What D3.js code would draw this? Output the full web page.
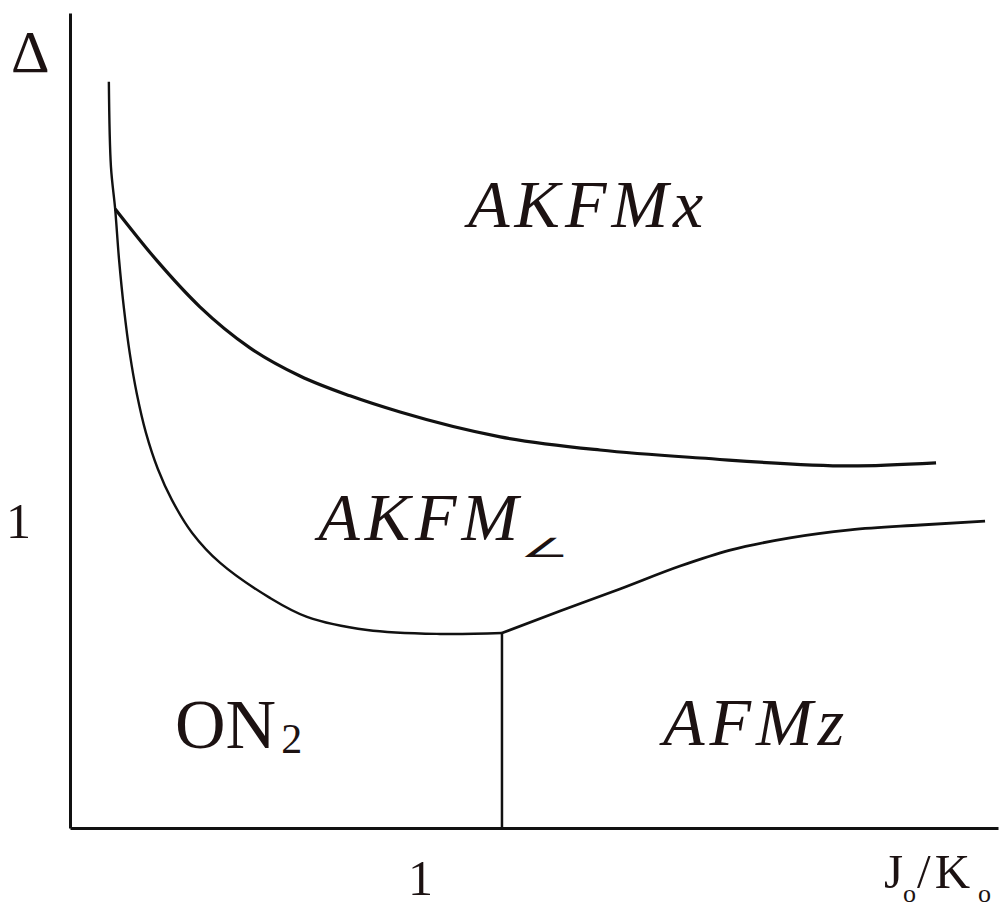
<!DOCTYPE html>
<html>
<head>
<meta charset="utf-8">
<script src="https://cdn.jsdelivr.net/npm/d3@7"></script>
<style>
  html, body { margin: 0; padding: 0; background: #fff; }
  svg { display: block; }
  text { font-family: "Liberation Serif", "Times New Roman", Times, serif; fill: #1c1212; }
</style>
</head>
<body>
<svg id="chart" width="1005" height="910"></svg>
<script>
// Phase boundaries in (J0/K0, Δ) units
const leftBoundaryX  = [0.111, 0.117, 0.129, 0.140, 0.154, 0.171, 0.191, 0.217, 0.251, 0.291, 0.349, 0.429, 0.571, 0.677, 0.849, 1.057, 1.234];
const leftBoundaryY  = [2.438, 2.160, 2.023, 1.859, 1.699, 1.549, 1.418, 1.291, 1.173, 1.072, 0.964, 0.866, 0.752, 0.690, 0.647, 0.634, 0.637];

const upperBoundaryX = [0.129, 0.249, 0.371, 0.514, 0.657, 0.800, 0.943, 1.229, 1.514, 1.800, 2.229, 2.474];
const upperBoundaryY = [2.023, 1.853, 1.703, 1.569, 1.477, 1.412, 1.359, 1.278, 1.235, 1.209, 1.183, 1.193];

const rightBoundaryX = [1.234, 1.400, 1.571, 1.743, 1.886, 2.057, 2.229, 2.429, 2.614];
const rightBoundaryY = [0.637, 0.709, 0.781, 0.856, 0.908, 0.948, 0.974, 0.990, 1.003];

const verticalBoundaryX = [1.234, 1.234];
const verticalBoundaryY = [0.0, 0.637];

// Axis ticks
const xTicks = [1];
const yTicks = [1];
const tickLabels = ["1"];

// Phase region labels
const phaseNames = ["AKFMx", "AKFM", "AFMz"];
const phaseX     = [1.137, 0.709, 1.694];
const phaseY     = [1.964, 0.941, 0.271];

const svg = d3.select("#chart");

const x = d3.scaleLinear().domain([0, 2.651]).range([70, 998]);
const y = d3.scaleLinear().domain([0, 2.663]).range([828, 13]);

const toPoints = (xs, ys) => xs.map((v, i) => [v, ys[i]]);
const lineCR = d3.line()
  .x(d => x(d[0]))
  .y(d => y(d[1]))
  .curve(d3.curveCatmullRom.alpha(0.5));
const lineMono = d3.line()
  .x(d => x(d[0]))
  .y(d => y(d[1]))
  .curve(d3.curveMonotoneX);

// Axes
const xAxis = svg.append("g")
  .attr("transform", `translate(0,${y(0)})`)
  .call(d3.axisBottom(x).tickValues(xTicks).tickFormat((d, i) => tickLabels[i]).tickSize(0).tickSizeOuter(0));
const yAxis = svg.append("g")
  .attr("transform", `translate(${x(0)},0)`)
  .call(d3.axisLeft(y).tickValues(yTicks).tickFormat((d, i) => tickLabels[i]).tickSize(0).tickSizeOuter(0));

[xAxis, yAxis].forEach(g => {
  g.select(".domain").attr("stroke", "#111").attr("stroke-width", 3);
  g.selectAll("text")
    .attr("fill", "#1c1212")
    .style("font-family", '"Liberation Serif", "Times New Roman", serif')
    .style("font-size", "50px");
});
xAxis.selectAll("text").attr("y", 67).attr("dy", 0);
yAxis.selectAll("text").attr("x", -39).attr("dy", "0.32em");

// Boundaries
const curves = [
  { d: lineCR(toPoints(leftBoundaryX, leftBoundaryY)), w: 2.4 },
  { d: lineMono(toPoints(upperBoundaryX, upperBoundaryY)), w: 3.2 },
  { d: lineMono(toPoints(rightBoundaryX, rightBoundaryY)), w: 2.8 },
  { d: lineCR(toPoints(verticalBoundaryX, verticalBoundaryY)), w: 2.5 }
];
svg.append("g").selectAll("path")
  .data(curves)
  .join("path")
  .attr("d", d => d.d)
  .attr("fill", "none")
  .attr("stroke", "#111")
  .attr("stroke-width", d => d.w)
  .attr("stroke-linecap", "butt");

// Region labels (italic)
svg.append("g").selectAll("text")
  .data(phaseNames)
  .join("text")
  .attr("x", (d, i) => x(phaseX[i]))
  .attr("y", (d, i) => y(phaseY[i]))
  .style("font-style", "italic")
  .style("font-size", "68px")
  .style("letter-spacing", "5px")
  .text(d => d);

// angle subscript of AKFM
svg.append("text")
  .attr("transform", `translate(520,557) scale(1.25,0.6)`)
  .style("font-family", '"DejaVu Sans", sans-serif')
  .style("font-size", "44px")
  .text("\u2220");

// ON2 label (upright)
const on2 = svg.append("text")
  .attr("x", x(0.30))
  .attr("y", y(0.261))
  .style("font-size", "70px");
on2.append("tspan").text("ON");
on2.append("tspan").attr("dx", 5).attr("dy", 5).style("font-size", "42px").text("2");

// Axis titles
svg.append("text")
  .attr("x", 11).attr("y", 72)
  .style("font-size", "60px")
  .text("\u0394");

const xt = svg.append("text").attr("x", 884).attr("y", 888).style("font-size", "49px");
xt.append("tspan").text("J");
xt.append("tspan").attr("dx", 0).attr("dy", 14).style("font-size", "26px").text("o");
xt.append("tspan").attr("dx", 1).attr("dy", -14).text("/");
xt.append("tspan").attr("dx", 4).text("K");
xt.append("tspan").attr("dx", 8).attr("dy", 14).style("font-size", "26px").text("o");
</script>
</body>
</html>
